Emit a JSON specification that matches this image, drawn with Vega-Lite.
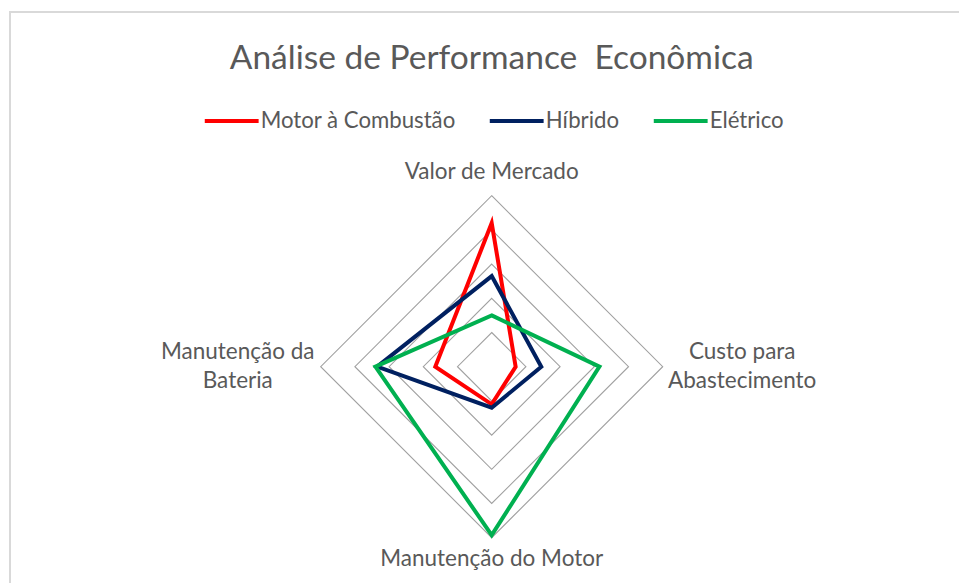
{
  "$schema": "https://vega.github.io/schema/vega-lite/v6.json",
  "autosize": {"type": "none"},
  "width": 342,
  "height": 342,
  "padding": {"left": 320.7, "top": 195.7, "right": 296.3, "bottom": 45.3},
  "background": "white",
  "title": {
    "text": "Análise de Performance \u00a0Econômica",
    "anchor": "middle",
    "offset": -65.7,
    "font": "Lato",
    "fontSize": 33.5,
    "fontWeight": "normal",
    "color": "#595959"
  },
  "config": {
    "view": {"stroke": null},
    "font": "Lato"
  },
  "datasets": {
    "series": [
      {"serie": "Motor à Combustão", "eixo": "Valor de Mercado", "i": 0, "valor": 8.4},
      {"serie": "Motor à Combustão", "eixo": "Custo para Abastecimento", "i": 1, "valor": 1.4},
      {"serie": "Motor à Combustão", "eixo": "Manutenção do Motor", "i": 2, "valor": 2.2},
      {"serie": "Motor à Combustão", "eixo": "Manutenção da Bateria", "i": 3, "valor": 3.3},
      {"serie": "Híbrido", "eixo": "Valor de Mercado", "i": 0, "valor": 5.3},
      {"serie": "Híbrido", "eixo": "Custo para Abastecimento", "i": 1, "valor": 2.9},
      {"serie": "Híbrido", "eixo": "Manutenção do Motor", "i": 2, "valor": 2.4},
      {"serie": "Híbrido", "eixo": "Manutenção da Bateria", "i": 3, "valor": 6.7},
      {"serie": "Elétrico", "eixo": "Valor de Mercado", "i": 0, "valor": 3.0},
      {"serie": "Elétrico", "eixo": "Custo para Abastecimento", "i": 1, "valor": 6.3},
      {"serie": "Elétrico", "eixo": "Manutenção do Motor", "i": 2, "valor": 9.85},
      {"serie": "Elétrico", "eixo": "Manutenção da Bateria", "i": 3, "valor": 6.8}
    ],
    "grade": [
      {"nivel": 2, "i": [0, 1, 2, 3]},
      {"nivel": 4, "i": [0, 1, 2, 3]},
      {"nivel": 6, "i": [0, 1, 2, 3]},
      {"nivel": 8, "i": [0, 1, 2, 3]},
      {"nivel": 10, "i": [0, 1, 2, 3]}
    ],
    "rotulos": [
      {"eixo": "Valor de Mercado"}
    ]
  },
  "layer": [
    {
      "data": {"name": "rotulos"},
      "mark": {"type": "rect", "fill": null, "fillOpacity": 0, "stroke": "#D9D9D9", "strokeWidth": 2, "clip": false},
      "encoding": {
        "x": {"datum": -28.17, "type": "quantitative", "scale": {"domain": [-10, 10]}, "axis": null},
        "x2": {"datum": 32},
        "y": {"datum": 20.74, "type": "quantitative", "scale": {"domain": [-10, 10]}, "axis": null},
        "y2": {"datum": -16}
      }
    },
    {
      "data": {"name": "grade"},
      "transform": [
        {"flatten": ["i"]},
        {"calculate": "datum.nivel * sin(datum.i * PI / 2)", "as": "gx"},
        {"calculate": "datum.nivel * cos(datum.i * PI / 2)", "as": "gy"}
      ],
      "mark": {"type": "line", "interpolate": "linear-closed", "stroke": "#A0A0A0", "strokeWidth": 1.1},
      "encoding": {
        "x": {"field": "gx", "type": "quantitative", "scale": {"domain": [-10, 10]}, "axis": null},
        "y": {"field": "gy", "type": "quantitative", "scale": {"domain": [-10, 10]}, "axis": null},
        "detail": {"field": "nivel"},
        "order": {"field": "i"}
      }
    },
    {
      "data": {"name": "series"},
      "transform": [
        {"calculate": "datum.valor * sin(datum.i * PI / 2)", "as": "px"},
        {"calculate": "datum.valor * cos(datum.i * PI / 2)", "as": "py"}
      ],
      "mark": {"type": "line", "interpolate": "linear-closed", "strokeWidth": 4, "strokeJoin": "miter"},
      "encoding": {
        "x": {"field": "px", "type": "quantitative", "scale": {"domain": [-10, 10]}, "axis": null},
        "y": {"field": "py", "type": "quantitative", "scale": {"domain": [-10, 10]}, "axis": null},
        "order": {"field": "i"},
        "color": {
          "field": "serie",
          "type": "nominal",
          "sort": ["Motor à Combustão", "Híbrido", "Elétrico"],
          "scale": {"domain": ["Motor à Combustão", "Híbrido", "Elétrico"], "range": ["#FF0000", "#002060", "#00B050"]},
          "legend": {
            "title": null,
            "orient": "none",
            "direction": "horizontal",
            "legendX": -118,
            "legendY": -104,
            "symbolType": "stroke",
            "symbolSize": 2900,
            "symbolStrokeWidth": 4,
            "labelFont": "Lato",
            "labelFontSize": 22.2,
            "labelLimit": 400,
            "labelColor": "#595959",
            "labelOffset": 0,
            "columnPadding": 26
          }
        }
      }
    },
    {
      "data": {"name": "rotulos"},
      "mark": {"type": "text", "text": "Valor de Mercado", "font": "Lato", "fontSize": 22.5, "color": "#595959", "align": "center", "baseline": "middle"},
      "encoding": {"x": {"datum": 0, "type": "quantitative"}, "y": {"datum": 11.4, "type": "quantitative"}}
    },
    {
      "data": {"name": "rotulos"},
      "mark": {"type": "text", "text": ["Custo para", "Abastecimento"], "font": "Lato", "fontSize": 22.5, "lineHeight": 29, "dy": -14.5, "color": "#595959", "align": "center", "baseline": "middle"},
      "encoding": {"x": {"datum": 14.65, "type": "quantitative"}, "y": {"datum": 0, "type": "quantitative"}}
    },
    {
      "data": {"name": "rotulos"},
      "mark": {"type": "text", "text": "Manutenção do Motor", "font": "Lato", "fontSize": 22.5, "color": "#595959", "align": "center", "baseline": "middle"},
      "encoding": {"x": {"datum": 0, "type": "quantitative"}, "y": {"datum": -11.25, "type": "quantitative"}}
    },
    {
      "data": {"name": "rotulos"},
      "mark": {"type": "text", "text": ["Manutenção da", "Bateria"], "font": "Lato", "fontSize": 22.5, "lineHeight": 29, "dy": -14.5, "color": "#595959", "align": "center", "baseline": "middle"},
      "encoding": {"x": {"datum": -14.85, "type": "quantitative"}, "y": {"datum": 0, "type": "quantitative"}}
    }
  ]
}
